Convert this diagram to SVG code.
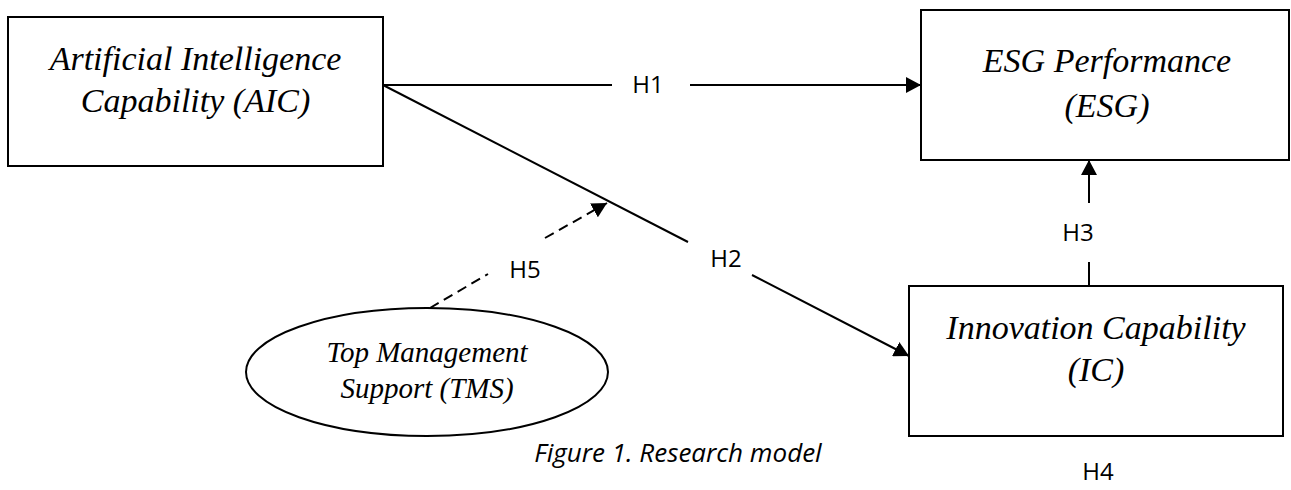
<svg xmlns="http://www.w3.org/2000/svg" width="1291" height="490" viewBox="0 0 1291 490">
<style>
.box{fill:#fff;stroke:#000;stroke-width:2}
.nt{font-family:"Liberation Serif","Times New Roman",serif;font-style:italic;font-size:34px;fill:#000;text-anchor:middle}
.st{font-family:"Liberation Serif","Times New Roman",serif;font-style:italic;font-size:29px;fill:#000;text-anchor:middle}
.lb{font-family:"Open Sans","Noto Sans",sans-serif;font-size:24px;fill:#000;text-anchor:middle}
.cap{font-family:"Open Sans","Noto Sans",sans-serif;font-style:italic;font-size:26px;fill:#000;text-anchor:middle}
.ln{fill:none;stroke:#000;stroke-width:2}
.dash{stroke-dasharray:10 6}
</style>
<defs>
<marker id="ah" viewBox="0 0 15 16" refX="15" refY="8" markerWidth="15" markerHeight="16" markerUnits="userSpaceOnUse" orient="auto">
<path d="M0,0 L15,8 L0,16 Z" fill="#000"/>
</marker>
</defs>
<rect width="1291" height="490" fill="#fff"/>
<g id="connectors">
<line class="ln" x1="383" y1="85" x2="612" y2="85"/>
<line class="ln" x1="690" y1="85" x2="921" y2="85" marker-end="url(#ah)"/>
<line class="ln" x1="383" y1="85" x2="688" y2="242"/>
<line class="ln" x1="752" y1="275" x2="909" y2="356" marker-end="url(#ah)"/>
<line class="ln" x1="1089" y1="286" x2="1089" y2="262"/>
<line class="ln" x1="1089" y1="203" x2="1089" y2="160" marker-end="url(#ah)"/>
<line class="ln dash" x1="430" y1="308" x2="488" y2="274"/>
<line class="ln dash" x1="545" y1="238" x2="607" y2="203" marker-end="url(#ah)"/>
<text class="lb" x="648" y="93">H1</text>
<text class="lb" x="726" y="267">H2</text>
<text class="lb" x="1078" y="241">H3</text>
<text class="lb" x="1098" y="480">H4</text>
<text class="lb" x="525" y="278">H5</text>
</g>
<g id="aic">
<rect class="box" x="8" y="17" width="375" height="149"/>
<text class="nt" x="195.5" y="70">Artificial Intelligence</text>
<text class="nt" x="195.5" y="112">Capability (AIC)</text>
</g>
<g id="esg">
<rect class="box" x="921" y="10" width="368" height="150"/>
<text class="nt" x="1107" y="72">ESG Performance</text>
<text class="nt" x="1107" y="117">(ESG)</text>
</g>
<g id="ic">
<rect class="box" x="909" y="286" width="374" height="150"/>
<text class="nt" x="1096" y="339">Innovation Capability</text>
<text class="nt" x="1096" y="381">(IC)</text>
</g>
<g id="tms">
<ellipse class="box" cx="427" cy="372" rx="181" ry="64"/>
<text class="st" x="427" y="362">Top Management</text>
<text class="st" x="427" y="398">Support (TMS)</text>
</g>
<text class="cap" x="678" y="462">Figure 1. Research model</text>
</svg>
